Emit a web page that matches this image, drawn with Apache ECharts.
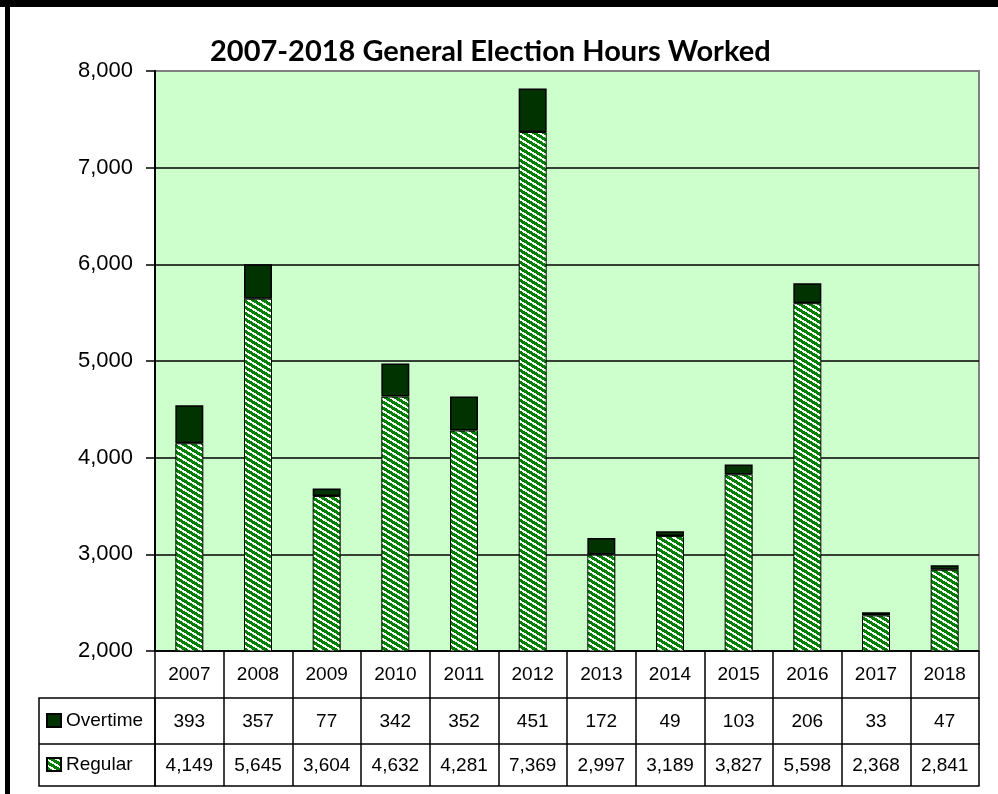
<!DOCTYPE html>
<html>
<head>
<meta charset="utf-8">
<title>General Election Hours Worked</title>
<script src="https://cdn.jsdelivr.net/npm/echarts@6/dist/echarts.min.js"></script>
<style>
  html, body { margin: 0; padding: 0; background: #fff; }
  #chart { width: 998px; height: 794px; }
</style>
</head>
<body>
<div id="chart"></div>
<script>
const years = ['2007', '2008', '2009', '2010', '2011', '2012', '2013', '2014', '2015', '2016', '2017', '2018'];
const overtime = [393, 357, 77, 342, 352, 451, 172, 49, 103, 206, 33, 47];
const regular = [4149, 5645, 3604, 4632, 4281, 7369, 2997, 3189, 3827, 5598, 2368, 2841];
const yTicks = [2000, 3000, 4000, 5000, 6000, 7000, 8000];

const narrow = "'Liberation Sans Narrow', 'Arial Narrow', 'Liberation Sans', sans-serif";

function fmt(v) {
  return String(v).replace(/\B(?=(\d{3})+(?!\d))/g, ',');
}

// green / white downward diagonal hatch (tile w x h, stripes shift w per h rows)
function makeHatch() {
  let c = document.createElement('canvas');
  let w = 10, h = 6;
  c.width = w;
  c.height = h;
  let ctx = c.getContext('2d');
  ctx.fillStyle = '#ffffff';
  ctx.fillRect(0, 0, w, h);
  ctx.fillStyle = '#008000';
  for (let y = 0; y < h; y++) {
    for (let x = 0; x < w; x++) {
      let u = ((x + 0.5 - (y + 0.5) * w / h) % w + w) % w;
      if (u < 6) ctx.fillRect(x, y, 1, 1);
    }
  }
  return c;
}

let hatch = { image: makeHatch(), repeat: 'repeat' };

// table rows below the plot (offset, row height)
function tableAxis(data, offset, rowH, margin) {
  return {
    type: 'category',
    position: 'bottom',
    offset: offset,
    data: data,
    axisLine: { show: true, lineStyle: { color: '#000', width: 1.5 } },
    axisTick: { show: true, interval: 0, length: rowH, lineStyle: { color: '#000', width: 1.5 } },
    axisLabel: { interval: 0, margin: margin, color: '#000', fontSize: 19, fontFamily: narrow },
    splitLine: { show: false }
  };
}

let chart = echarts.init(document.getElementById('chart'));

let option = {
  animation: false,
  backgroundColor: '#fff',
  title: {
    text: '2007-2018 General Election Hours Worked',
    left: 210,
    top: 37,
    padding: 0,
    textStyle: { fontFamily: 'Lato', fontWeight: 'bold', fontSize: 29, color: '#000' }
  },
  legend: [
    {
      data: ['Overtime'], left: 46, top: 711, padding: 0, icon: 'rect',
      itemWidth: 14, itemHeight: 13, itemGap: 0,
      textStyle: { fontSize: 19, fontFamily: narrow, color: '#000' }
    },
    {
      data: ['Regular'], left: 46, top: 755, padding: 0, icon: 'rect',
      itemWidth: 14, itemHeight: 13, itemGap: 0,
      textStyle: { fontSize: 19, fontFamily: narrow, color: '#000' }
    }
  ],
  grid: {
    left: 155, right: 19, top: 71, bottom: 143,
    show: true, backgroundColor: '#CCFFCC', borderColor: '#808080', borderWidth: 2
  },
  xAxis: [
    tableAxis(years, 0, 47, 14),
    tableAxis(overtime.map(fmt), 47, 46, 14),
    tableAxis(regular.map(fmt), 93, 42, 12),
    {
      type: 'category', position: 'bottom', offset: 135, data: years,
      axisLine: { show: true, lineStyle: { color: '#000', width: 1.5 } },
      axisTick: { show: false }, axisLabel: { show: false }
    }
  ],
  yAxis: {
    type: 'value',
    min: yTicks[0],
    max: yTicks[yTicks.length - 1],
    interval: 1000,
    axisLine: { show: true, lineStyle: { color: '#000', width: 2 } },
    axisTick: { show: true, length: 9, lineStyle: { color: '#000', width: 1.5 } },
    axisLabel: { margin: 22, color: '#000', fontSize: 22, fontFamily: narrow, formatter: v => fmt(v) },
    splitLine: {
      show: true,
      lineStyle: { color: ['#000', '#000', '#000', '#000', '#000', '#000', '#808080'], width: 1.5 }
    }
  },
  series: [
    {
      name: 'Regular',
      type: 'bar',
      stack: 'hours',
      xAxisIndex: 0,
      barWidth: 28,
      data: regular,
      itemStyle: { color: hatch, borderColor: '#000', borderWidth: 1 }
    },
    {
      name: 'Overtime',
      type: 'bar',
      stack: 'hours',
      xAxisIndex: 0,
      barWidth: 28,
      data: overtime,
      itemStyle: { color: '#003300', borderColor: '#000', borderWidth: 1.5 }
    }
  ],
  graphic: [
    { type: 'rect', shape: { x: 0, y: 0, width: 998, height: 7 }, style: { fill: '#000' } },
    { type: 'rect', shape: { x: 5, y: 0, width: 5, height: 794 }, style: { fill: '#000' } },
    { type: 'rect', shape: { x: 39, y: 698, width: 116, height: 88 }, style: { fill: 'none', stroke: '#000', lineWidth: 1.5 }, z: -1 },
    { type: 'line', shape: { x1: 39, y1: 744, x2: 155, y2: 744 }, style: { stroke: '#000', lineWidth: 1.5 } }
  ]
};

chart.setOption(option);
</script>
</body>
</html>
